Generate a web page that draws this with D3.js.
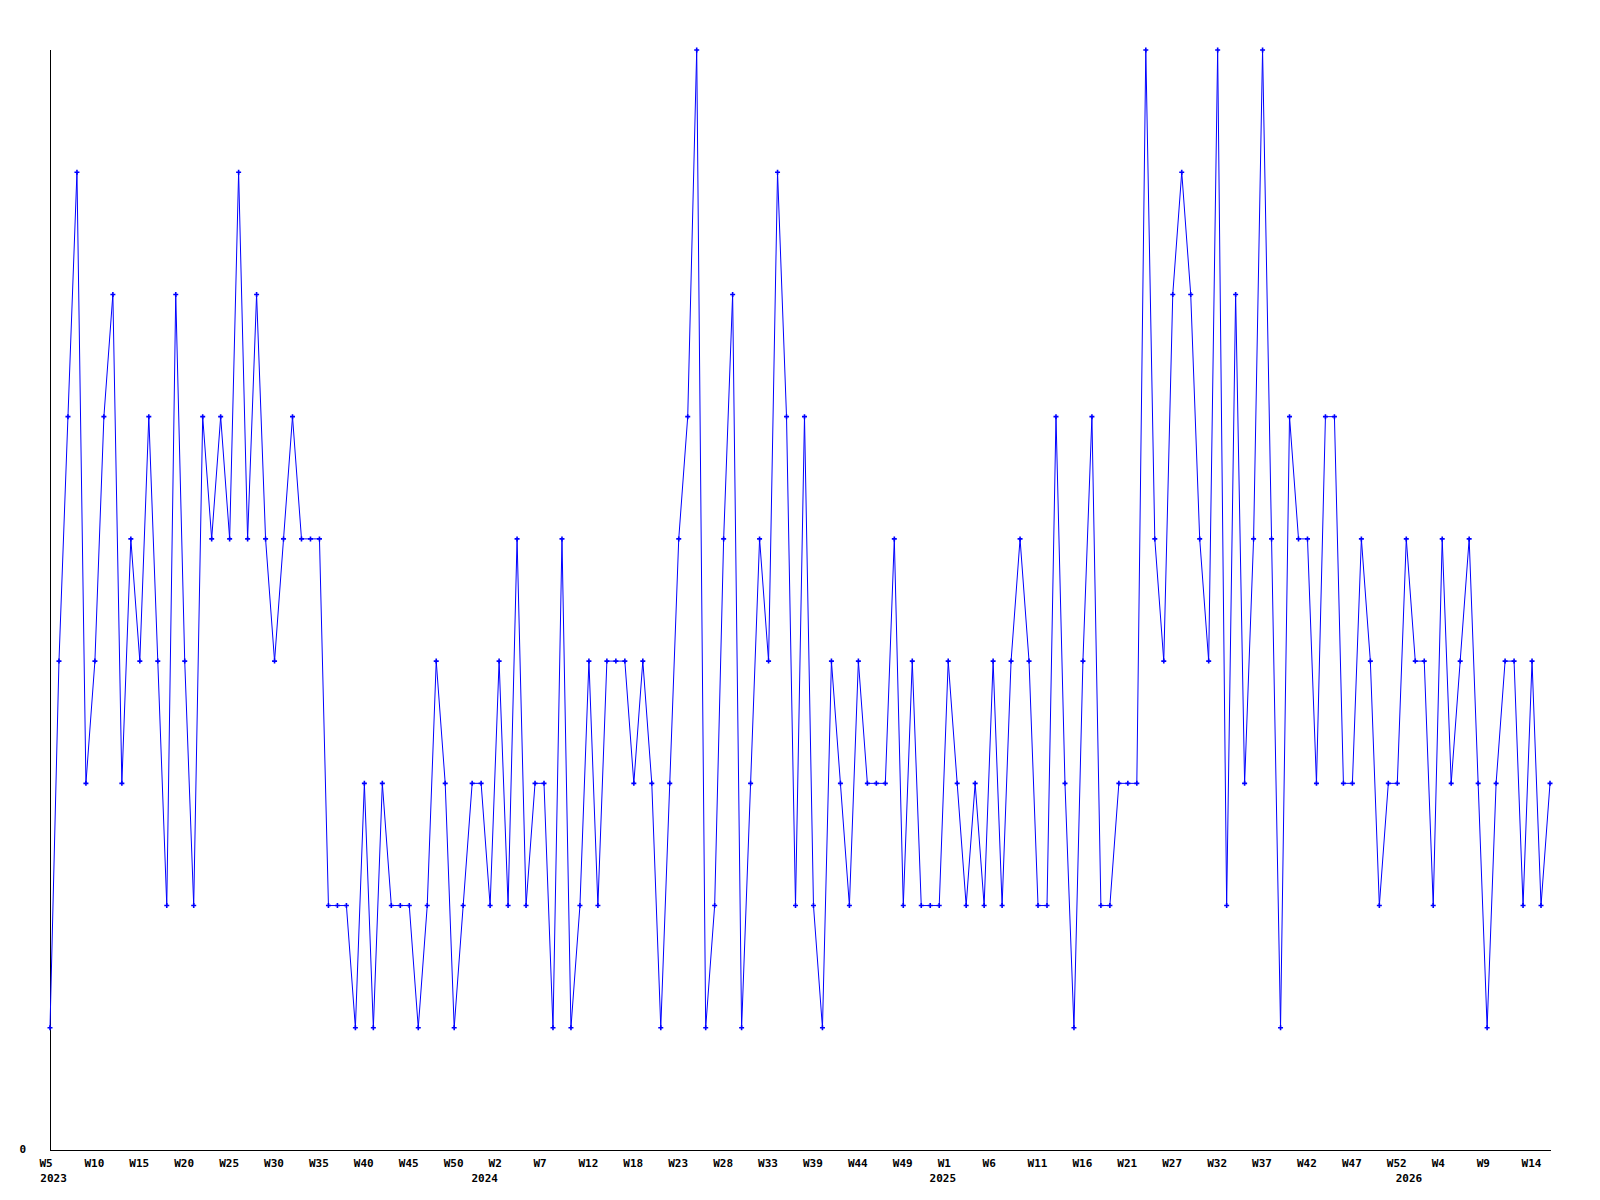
<!DOCTYPE html>
<html>
<head>
<meta charset="utf-8">
<script src="https://cdn.jsdelivr.net/npm/d3@7"></script>
<style>
  html, body { margin: 0; padding: 0; background: #fff; }
  svg { display: block; }
  text { font-family: "DejaVu Sans Mono", monospace; font-weight: bold; font-size: 11px; fill: #000; }
</style>
</head>
<body>
<svg id="chart" width="1600" height="1200"></svg>
<script>
// Weekly values, one per point (2023-W5 .. 2026-W16)
const values = [
  1,4,6,8,3,4,6,7,3,5, 4,6,4,2,7,4,2,6,5,6, 5,8,5,7,5,4,5,6,5,5,
  5,2,2,2,1,3,1,3,2,2, 2,1,2,4,3,1,2,3,3,2, 4,2,5,2,3,3,1,5,1,2,
  4,2,4,4,4,3,4,3,1,3, 5,6,9,1,2,5,7,1,3,5, 4,8,6,2,6,2,1,4,3,2,
  4,3,3,3,5,2,4,2,2,2, 4,3,2,3,2,4,2,4,5,4, 2,2,6,3,1,4,6,2,2,3,
  3,3,9,5,4,7,8,7,5,4, 9,2,7,3,5,9,5,1,6,5, 5,3,6,6,3,3,5,4,2,3,
  3,5,4,4,2,5,3,4,5,3, 1,3,4,4,2,4,2,3
];
// Tick labels, one every 5 points
const weekLabels = [
  "W5","W10","W15","W20","W25","W30","W35","W40","W45","W50",
  "W2","W7","W12","W18","W23","W28","W33","W39","W44","W49",
  "W1","W6","W11","W16","W21","W27","W32","W37","W42","W47",
  "W52","W4","W9","W14"
];
// Year labels and their position on the week axis (start of each year)
const yearLabels = ["2023", "2024", "2025", "2026"];
const yearAt = [0.4, 48.4, 99.4, 151.3];
const yTickValues = [0];
const tickStep = 5;

const svg = d3.select("#chart");
const mLeft = 50, mRight = 1550, mTop = 50, mBottom = 1150;

const x = d3.scaleLinear().domain([0, values.length - 1]).range([mLeft, mRight]);
const y = d3.scaleLinear().domain([0, 9]).range([mBottom, mTop]);

// axes lines
svg.append("line").attr("x1", mLeft).attr("x2", mLeft).attr("y1", mTop).attr("y2", mBottom)
  .attr("stroke", "#000").attr("stroke-width", 1).attr("shape-rendering", "crispEdges");
svg.append("line").attr("x1", mLeft).attr("x2", mRight + 0.5).attr("y1", mBottom).attr("y2", mBottom)
  .attr("stroke", "#000").attr("stroke-width", 1).attr("shape-rendering", "crispEdges");

// y tick label(s)
svg.selectAll("text.ylab").data(yTickValues).enter().append("text")
  .attr("class", "ylab")
  .attr("x", 26).attr("y", d => y(d) + 3)
  .attr("text-anchor", "end")
  .text(d => d);

// x tick labels
const tickIdx = weekLabels.map((_, i) => i * tickStep);
svg.selectAll("text.xlab").data(weekLabels).enter().append("text")
  .attr("class", "xlab")
  .attr("x", (d, i) => x(tickIdx[i]) - 10.5)
  .attr("y", 1167)
  .text(d => d);

svg.selectAll("text.yr").data(yearLabels).enter().append("text")
  .attr("class", "yr")
  .attr("x", (d, i) => x(yearAt[i]))
  .attr("text-anchor", "middle")
  .attr("y", 1181.5)
  .text(d => d);

// line
const line = d3.line().x((d, i) => x(i)).y(d => y(d));
svg.append("path").datum(values)
  .attr("d", line)
  .attr("fill", "none")
  .attr("stroke", "#0000ff")
  .attr("stroke-width", 1);

// markers
svg.selectAll("path.pt").data(values).enter().append("path")
  .attr("class", "pt")
  .attr("transform", (d, i) => `translate(${x(i)},${y(d)})`)
  .attr("d", "M-2.5,0H2.5M0,-2.5V2.5")
  .attr("stroke", "#0000ff")
  .attr("stroke-width", 1.6)
  .attr("fill", "none");
</script>
</body>
</html>
